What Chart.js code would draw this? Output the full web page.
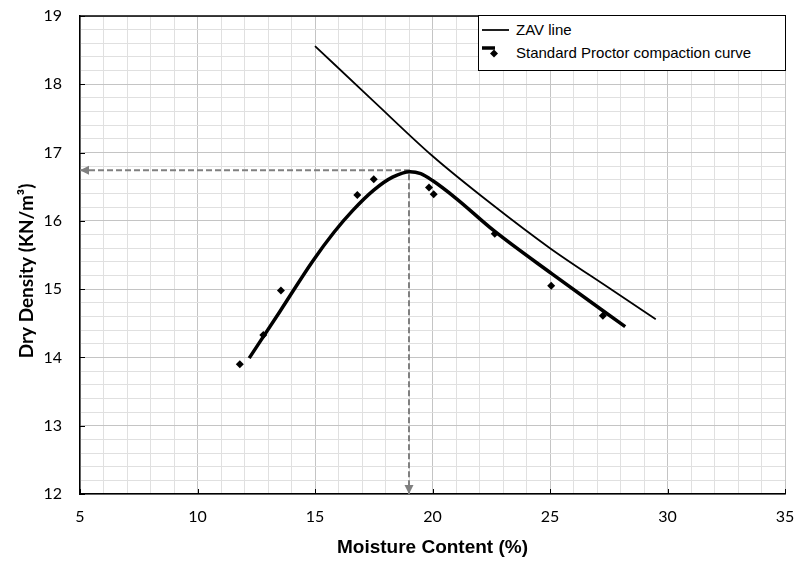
<!DOCTYPE html>
<html>
<head>
<meta charset="utf-8">
<script src="https://cdn.jsdelivr.net/npm/chart.js@4.4.1/dist/chart.umd.min.js"></script>
<style>
html,body{margin:0;padding:0;background:#fff;}
#wrap{position:relative;width:797px;height:563px;}
#legend{position:absolute;left:478px;top:15px;width:306px;height:54px;border:1px solid #000;background:#fff;font-family:'Liberation Sans',Arial,sans-serif;font-size:15px;color:#000;}
.lg-text{position:absolute;left:37px;white-space:nowrap;line-height:18px;}
</style>
</head>
<body>
<div id="wrap">
<canvas id="c" width="797" height="563"></canvas>
<div id="legend">
  <svg style="position:absolute;left:0;top:0" width="40" height="54">
    <line x1="3" y1="14" x2="30" y2="14" stroke="#000" stroke-width="1.75"/>
    <line x1="3" y1="32" x2="16" y2="32" stroke="#000" stroke-width="3.5"/>
    <polygon points="15,33.5 19,37.5 15,41.5 11,37.5" fill="#000"/>
  </svg>
  <div class="lg-text" style="top:5px">ZAV line</div>
  <div class="lg-text" style="top:28px">Standard Proctor compaction curve</div>
</div>
</div>
<script>
// ---- data ----
const moistureTicks = [5, 10, 15, 20, 25, 30, 35];
const densityTicks = [12, 13, 14, 15, 16, 17, 18, 19];

const zavMoisture = [15, 17.5, 20, 22.5, 25, 27.5, 29.5];
const zavDensity  = [18.56, 17.75, 16.95, 16.25, 15.6, 15.02, 14.56];

const testMoisture = [11.8, 12.8, 13.55, 16.8, 17.5, 19.85, 20.05, 22.65, 25.05, 27.25];
const testDensity  = [13.9, 14.33, 14.98, 16.38, 16.61, 16.49, 16.39, 15.81, 15.05, 14.61];

const curveMoisture = [12.2, 13.5, 14.9, 15.8, 16.6, 17.5, 18.3, 19.05, 19.5, 20.0, 21.0, 22.6, 25.1, 28.2];
const curveDensity  = [13.99, 14.67, 15.41, 15.83, 16.15, 16.45, 16.64, 16.72, 16.69, 16.59, 16.33, 15.86, 15.22, 14.45];

const omc = 19.0;   // optimum moisture content
const mdd = 16.74;  // maximum dry density

const xTitle = 'Moisture Content (%)';
const yTitle = 'Dry Density (KN/m³)';

const pts = (xs, ys) => xs.map((x, i) => ({x: x, y: ys[i]}));
const guidePoints = [{x: moistureTicks[0], y: mdd}, {x: omc, y: mdd}, {x: omc, y: densityTicks[0]}];

const near = (v, step) => Math.abs(v / step - Math.round(v / step)) < 1e-6;

const extras = {
  id: 'extras',
  afterDatasetsDraw(chart) {
    const {ctx, chartArea: a, scales: {x, y}} = chart;
    ctx.save();
    // arrow heads on guide lines
    const meta = chart.getDatasetMeta(3);
    const p0 = meta.data[0], p2 = meta.data[2];
    ctx.fillStyle = '#808080';
    ctx.beginPath();
    ctx.moveTo(p0.x, p0.y); ctx.lineTo(p0.x + 9, p0.y - 4.5); ctx.lineTo(p0.x + 9, p0.y + 4.5); ctx.closePath(); ctx.fill();
    ctx.beginPath();
    ctx.moveTo(p2.x, p2.y); ctx.lineTo(p2.x - 4.5, p2.y - 9); ctx.lineTo(p2.x + 4.5, p2.y - 9); ctx.closePath(); ctx.fill();
    // inward major ticks
    ctx.strokeStyle = '#000'; ctx.lineWidth = 1;
    ctx.beginPath();
    moistureTicks.forEach(v => { const px = Math.round(x.getPixelForValue(v)) + 0.5; ctx.moveTo(px, a.bottom); ctx.lineTo(px, a.bottom - 5); });
    densityTicks.forEach(v => { const py = Math.round(y.getPixelForValue(v)) + 0.5; ctx.moveTo(a.left, py); ctx.lineTo(a.left + 5, py); });
    ctx.stroke();
    // top border
    ctx.lineWidth = 1.5;
    ctx.beginPath(); ctx.moveTo(a.left, a.top); ctx.lineTo(a.right, a.top); ctx.stroke();
    ctx.restore();
  },
  afterDraw(chart) {
    // y-axis title (placed slightly below the plot centre, as in the original)
    const {ctx} = chart;
    ctx.save();
    ctx.translate(27, 271);
    ctx.rotate(-Math.PI / 2);
    ctx.font = 'bold 19px Lato';
    ctx.fillStyle = '#000';
    ctx.textAlign = 'center';
    ctx.textBaseline = 'middle';
    ctx.fillText(yTitle, 0, 0);
    ctx.restore();
  }
};

new Chart(document.getElementById('c'), {
  type: 'scatter',
  data: {
    datasets: [
      { label: 'Test points', data: pts(testMoisture, testDensity), showLine: false,
        pointStyle: 'rectRot', pointRadius: 4, backgroundColor: '#000', borderColor: '#000', borderWidth: 0 },
      { label: 'Standard Proctor compaction curve', data: pts(curveMoisture, curveDensity), showLine: true,
        borderColor: '#000', borderWidth: 3.5, pointRadius: 0, cubicInterpolationMode: 'monotone', fill: false },
      { label: 'ZAV line', data: pts(zavMoisture, zavDensity), showLine: true,
        borderColor: '#000', borderWidth: 1.75, pointRadius: 0, cubicInterpolationMode: 'monotone', fill: false },
      { label: 'guide', data: guidePoints, showLine: true, borderColor: '#808080', borderWidth: 2,
        borderDash: [6, 3], pointRadius: 0, tension: 0, fill: false }
    ]
  },
  options: {
    responsive: false, animation: false, devicePixelRatio: 1,
    layout: { padding: { top: 16, right: 12, left: 0, bottom: 0 } },
    plugins: { legend: { display: false }, tooltip: { enabled: false } },
    scales: {
      x: {
        type: 'linear', min: moistureTicks[0], max: moistureTicks[moistureTicks.length - 1],
        afterFit: s => { s.height = 69; s.paddingLeft = 0; s.paddingRight = 0; },
        ticks: { stepSize: 1, autoSkip: false, maxRotation: 0, padding: 13, color: '#000',
          font: { family: 'Lato', size: 16 },
          callback: v => moistureTicks.some(t => Math.abs(t - v) < 1e-6) ? String(v) : '' },
        grid: { drawTicks: false, color: c => (c.tick && near(c.tick.value, 5)) ? '#c4c4c4' : '#e0e0e0', lineWidth: 1 },
        border: { color: '#000', width: 1.5 },
        title: { display: true, text: xTitle, color: '#000',
          font: { family: 'Liberation Sans', size: 19, weight: 'bold' }, padding: { top: 0, bottom: 4 } }
      },
      y: {
        type: 'linear', min: densityTicks[0], max: densityTicks[densityTicks.length - 1],
        afterFit: s => { s.width = 80; s.paddingTop = 0; s.paddingBottom = 0; },
        ticks: { stepSize: 0.2, autoSkip: false, padding: 18, color: '#000',
          font: { family: 'Lato', size: 16 },
          callback: v => densityTicks.some(t => Math.abs(t - v) < 1e-6) ? String(Math.round(v)) : '' },
        grid: { drawTicks: false, color: c => (c.tick && near(c.tick.value, 1)) ? '#c4c4c4' : '#e0e0e0', lineWidth: 1 },
        border: { color: '#000', width: 1.5 },
        title: { display: false, text: yTitle }
      }
    }
  },
  plugins: [extras]
});
</script>
</body>
</html>
